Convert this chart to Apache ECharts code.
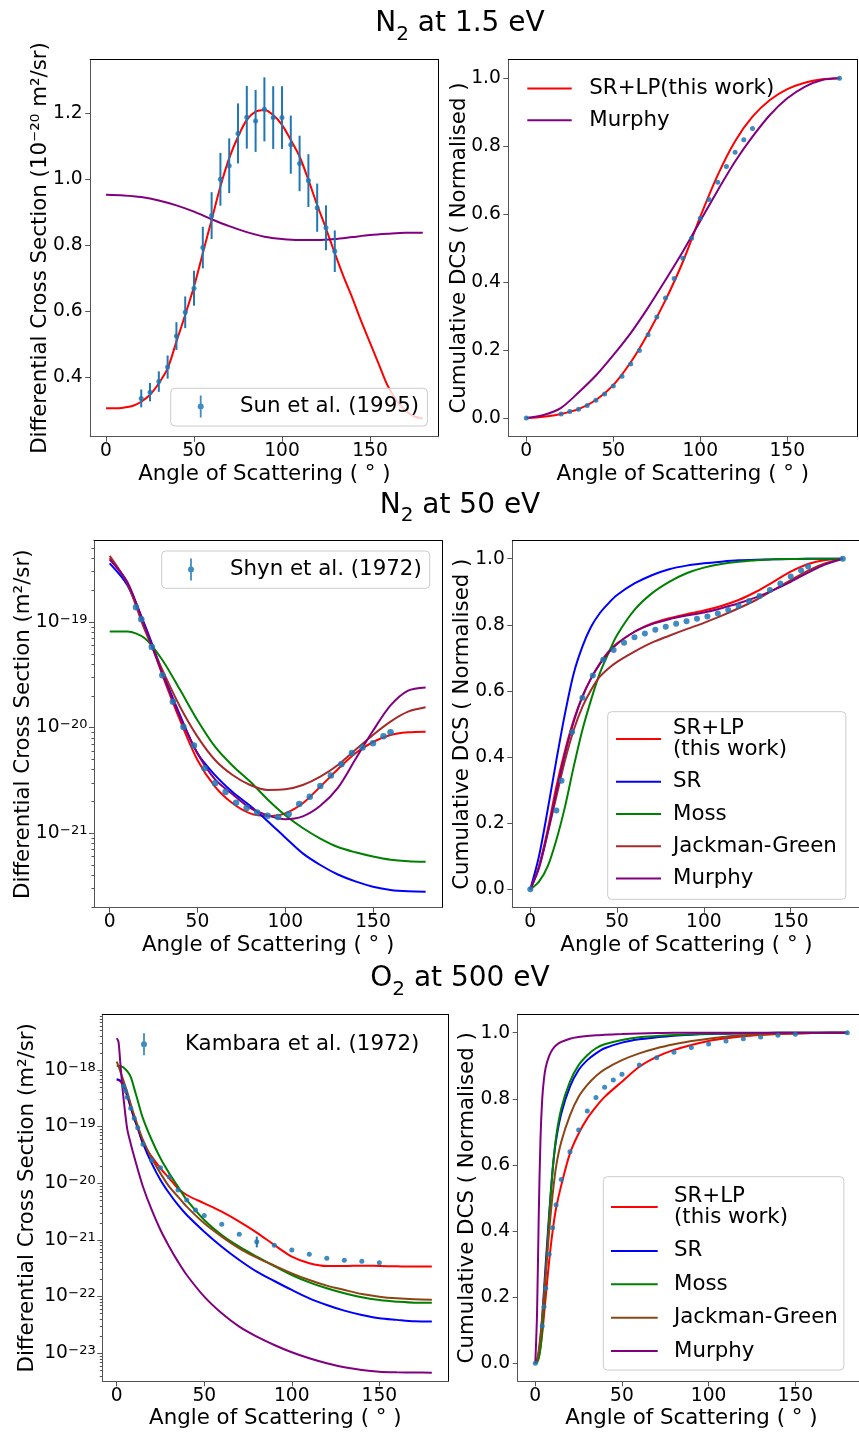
<!DOCTYPE html>
<html><head><meta charset="utf-8">
<script src="https://cdn.jsdelivr.net/npm/echarts@6/dist/echarts.min.js"></script>
<style>html,body{margin:0;padding:0;background:#fff}#c{width:859px;height:1433px}</style>
</head><body><div id="c"></div>
<script>
// ======================= DATA =======================
// ---- Panel 1: N2 at 1.5 eV, DCS (1e-20 m^2/sr) ----
const p1Angles = [0,5,10,15,20,25,30,35,40,45,50,55,60,65,70,75,80,85,90,95,100,105,110,115,120,125,130,135,140,145,150,155,160,165,170,175,180];
const p1SRLP = [0.306,0.306,0.308,0.313,0.326,0.347,0.382,0.427,0.508,0.589,0.675,0.776,0.877,0.978,1.064,1.129,1.180,1.205,1.210,1.195,1.165,1.119,1.069,0.998,0.922,0.851,0.776,0.705,0.640,0.570,0.505,0.440,0.375,0.330,0.300,0.282,0.275];
const p1MurphyAngles = [0,10,20,30,40,50,60,70,80,90,100,110,120,130,140,150,160,170,180];
const p1Murphy = [0.953,0.951,0.946,0.936,0.921,0.902,0.879,0.858,0.840,0.826,0.819,0.816,0.816,0.819,0.825,0.831,0.835,0.838,0.838];
const sunAngles = [20,25,30,35,40,45,50,55,60,65,70,75,80,85,90,95,100,105,110,115,120,125,130];
const sunDCS = [0.336,0.355,0.387,0.431,0.525,0.597,0.670,0.793,0.890,1.000,1.041,1.139,1.188,1.177,1.212,1.187,1.187,1.105,1.048,0.996,0.914,0.853,0.782];
const sunErr = [0.027,0.028,0.031,0.035,0.042,0.048,0.053,0.063,0.071,0.080,0.083,0.091,0.095,0.094,0.097,0.095,0.095,0.088,0.084,0.080,0.073,0.068,0.063];

// ---- Panel 2: N2 at 1.5 eV, cumulative DCS ----
const p2Angles = [0,10,20,30,40,50,60,70,80,90,100,110,120,130,140,150,160,170,180];
const p2SRLP = [0,0.004,0.012,0.026,0.053,0.097,0.164,0.249,0.347,0.46,0.593,0.715,0.815,0.887,0.936,0.968,0.987,0.997,1.0];
const p2Murphy = [0,0.009,0.03,0.075,0.125,0.185,0.25,0.325,0.406,0.49,0.58,0.67,0.755,0.828,0.892,0.941,0.975,0.995,1.0];
const sunCumAngles = [0,20,25,30,35,40,45,50,55,60,65,70,75,80,85,90,95,100,105,110,115,120,125,130,180];
const sunCum = [0,0.012,0.019,0.026,0.037,0.052,0.071,0.094,0.123,0.159,0.199,0.245,0.297,0.353,0.411,0.47,0.529,0.588,0.643,0.694,0.74,0.782,0.819,0.852,1.0];

// ---- Panel 3: N2 at 50 eV, DCS (m^2/sr) given as log10 values ----
const p3Angles = [0,10,20,30,40,50,60,70,80,90,100,110,120,130,140,150,160,170,180];
const p3SRLPLog = [-18.397,-18.634,-19.044,-19.50,-19.927,-20.306,-20.558,-20.716,-20.811,-20.836,-20.811,-20.716,-20.558,-20.394,-20.243,-20.136,-20.069,-20.044,-20.038];
const p3SRLog = [-18.445,-18.65,-19.028,-19.47,-19.88,-20.243,-20.45,-20.61,-20.74,-20.885,-21.04,-21.19,-21.30,-21.39,-21.455,-21.505,-21.536,-21.549,-21.552];
const p3MossLog = [-19.09,-19.09,-19.155,-19.36,-19.64,-19.93,-20.18,-20.36,-20.51,-20.68,-20.83,-20.95,-21.05,-21.13,-21.18,-21.22,-21.25,-21.265,-21.27];
const p3JGLog = [-18.375,-18.634,-19.076,-19.454,-19.80,-20.085,-20.306,-20.448,-20.543,-20.59,-20.584,-20.543,-20.464,-20.353,-20.21,-20.069,-19.943,-19.849,-19.808];
const p3MurphyLog = [-18.41,-18.62,-19.044,-19.486,-19.896,-20.243,-20.49,-20.63,-20.76,-20.83,-20.867,-20.84,-20.74,-20.57,-20.30,-20.03,-19.79,-19.65,-19.62];
const shynAngles = [15,18,24,30,36,42,48,54,60,66,72,78,84,90,96,102,108,114,120,126,132,138,144,150,156,160];
const shynLog = [-18.861,-18.975,-19.237,-19.505,-19.754,-19.994,-20.170,-20.385,-20.527,-20.609,-20.710,-20.76,-20.804,-20.833,-20.845,-20.817,-20.722,-20.653,-20.552,-20.454,-20.347,-20.240,-20.189,-20.148,-20.082,-20.044];

// ---- Panel 4: N2 at 50 eV, cumulative DCS ----
const p4Angles = [0,5,10,15,20,25,30,35,40,45,50,60,70,80,90,100,110,120,130,140,150,160,170,180];
const p4SRLP = [0,0.069,0.18,0.31,0.42,0.512,0.583,0.638,0.683,0.719,0.744,0.779,0.804,0.82,0.832,0.843,0.857,0.875,0.90,0.93,0.961,0.984,0.996,1.0];
const p4SR = [0,0.10,0.24,0.39,0.532,0.653,0.734,0.794,0.835,0.865,0.89,0.925,0.95,0.968,0.979,0.986,0.991,0.995,0.997,0.998,0.999,1.0,1.0,1.0];
const p4Moss = [0,0.023,0.069,0.149,0.25,0.371,0.482,0.573,0.653,0.714,0.769,0.845,0.895,0.93,0.956,0.973,0.984,0.991,0.995,0.998,0.999,1.0,1.0,1.0];
const p4JG = [0,0.069,0.17,0.28,0.39,0.482,0.552,0.603,0.643,0.668,0.688,0.719,0.746,0.767,0.787,0.806,0.827,0.85,0.875,0.905,0.935,0.964,0.986,1.0];
const p4Murphy = [0,0.064,0.17,0.295,0.411,0.507,0.583,0.638,0.681,0.716,0.742,0.779,0.802,0.817,0.828,0.837,0.85,0.865,0.883,0.905,0.93,0.958,0.983,1.0];
const shynCumAngles = [0,15,18,24,30,36,42,48,54,60,66,72,78,84,90,96,102,108,114,120,126,132,138,144,150,156,160,180];
const shynCum = [0,0.238,0.328,0.476,0.579,0.647,0.694,0.724,0.746,0.762,0.774,0.785,0.794,0.803,0.811,0.818,0.825,0.834,0.845,0.857,0.872,0.887,0.905,0.925,0.946,0.964,0.976,1.0];

// ---- Panel 5: O2 at 500 eV, DCS (m^2/sr) given as log10 values ----
const p5Angles = [0,1,2,3,4,6,8,10,12,15,20,25,30,35,40,50,60,70,80,90,100,110,120,130,140,150,160,170,180];
const p5SRLPLog = [-18.17,-18.18,-18.20,-18.24,-18.28,-18.46,-18.66,-18.85,-19.02,-19.30,-19.53,-19.735,-19.91,-20.09,-20.206,-20.353,-20.50,-20.676,-20.87,-21.088,-21.294,-21.41,-21.459,-21.459,-21.453,-21.459,-21.465,-21.47,-21.47];
const p5SRLog = [-18.165,-18.17,-18.185,-18.21,-18.26,-18.45,-18.65,-18.853,-19.02,-19.294,-19.647,-19.94,-20.176,-20.382,-20.559,-20.853,-21.118,-21.353,-21.559,-21.724,-21.882,-22.03,-22.147,-22.247,-22.324,-22.382,-22.41,-22.435,-22.44];
const p5MossLog = [-17.93,-17.93,-17.93,-17.94,-17.96,-18.02,-18.12,-18.324,-18.54,-18.853,-19.235,-19.559,-19.824,-20.059,-20.294,-20.647,-20.912,-21.118,-21.294,-21.459,-21.618,-21.747,-21.853,-21.941,-22.012,-22.059,-22.088,-22.106,-22.106];
const p5JGLog = [-17.853,-17.93,-18.02,-18.11,-18.2,-18.39,-18.6,-18.80,-18.98,-19.235,-19.559,-19.824,-20.059,-20.235,-20.412,-20.706,-20.941,-21.147,-21.312,-21.453,-21.588,-21.706,-21.806,-21.882,-21.953,-22.0,-22.03,-22.047,-22.053];
const p5MurphyLog = [-17.44,-17.50,-17.85,-18.22,-18.53,-19.04,-19.30,-19.53,-19.75,-20.06,-20.47,-20.824,-21.118,-21.382,-21.618,-22.0,-22.294,-22.53,-22.706,-22.853,-22.982,-23.088,-23.176,-23.247,-23.294,-23.324,-23.335,-23.34,-23.341];
const kambaraAngles = [4,5,6,8,10,12,15,20,25,30,35,40,45,50,60,70,80,90,100,110,120,130,140,150];
const kambaraLog = [-18.282,-18.371,-18.482,-18.676,-18.853,-19.018,-19.312,-19.594,-19.724,-19.882,-20.118,-20.294,-20.47,-20.57,-20.724,-20.9,-21.03,-21.094,-21.176,-21.253,-21.324,-21.359,-21.376,-21.4];
const kambaraBarAngles = [80];
const kambaraBarLow = [7.4e-22];
const kambaraBarHigh = [1.15e-21];

// ---- Panel 6: O2 at 500 eV, cumulative DCS ----
const p6Angles = [0,1,2,3,4,5,6,8,10,12,15,20,25,30,35,40,50,60,70,80,90,100,110,120,130,140,150,160,170,180];
const p6SRLP = [0,0.005,0.02,0.05,0.09,0.145,0.2,0.31,0.40,0.469,0.539,0.635,0.695,0.741,0.776,0.806,0.852,0.897,0.927,0.948,0.963,0.975,0.983,0.989,0.993,0.996,0.998,0.999,1.0,1.0];
const p6SR = [0,0.008,0.03,0.075,0.14,0.22,0.30,0.45,0.585,0.675,0.756,0.837,0.887,0.917,0.9375,0.953,0.97,0.98,0.986,0.991,0.994,0.996,0.997,0.998,0.999,1.0,1.0,1.0,1.0,1.0];
const p6Moss = [0,0.003,0.015,0.045,0.10,0.18,0.27,0.44,0.585,0.685,0.771,0.852,0.902,0.932,0.953,0.965,0.978,0.986,0.99,0.993,0.995,0.997,0.998,0.999,0.999,1.0,1.0,1.0,1.0,1.0];
const p6JG = [0,0.012,0.04,0.085,0.14,0.205,0.27,0.40,0.51,0.595,0.67,0.75,0.806,0.842,0.869,0.889,0.917,0.9375,0.953,0.965,0.975,0.982,0.988,0.992,0.995,0.997,0.998,0.999,1.0,1.0];
const p6Murphy = [0,0.15,0.45,0.68,0.80,0.86,0.895,0.93,0.95,0.962,0.972,0.982,0.987,0.99,0.992,0.994,0.996,0.998,0.999,1.0,1.0,1.0,1.0,1.0,1.0,1.0,1.0,1.0,1.0,1.0];
const kambaraCumAngles = [0,4,5,6,8,10,12,15,20,25,30,35,40,45,50,60,70,80,90,100,110,120,130,140,150,180];
const kambaraCum = [0,0.113,0.171,0.227,0.33,0.41,0.48,0.556,0.64,0.706,0.763,0.804,0.835,0.857,0.874,0.902,0.924,0.941,0.955,0.966,0.975,0.982,0.987,0.992,0.995,1.0];

// ---- Tick labels / text ----
const xTicks = [0,50,100,150];
const p1YTicks = [0.4,0.6,0.8,1.0,1.2];
const cumYTicks = [0,0.2,0.4,0.6,0.8,1.0];
const p3MajorExp = [-21,-20,-19];
const p5MajorExp = [-23,-22,-21,-20,-19,-18];
const titles = ['N{s|2} at 1.5 eV','N{s|2} at 50 eV','O{s|2} at 500 eV'];
const xName = 'Angle of Scattering ( \u00B0 )';
const yNameP1 = 'Differential Cross Section (10\u207B\u00B2\u2070 m\u00B2/sr)';
const yNameLog = 'Differential Cross Section (m\u00B2/sr)';
const yNameCum = 'Cumulative DCS ( Normalised )';

// ======================= STYLE / LAYOUT =======================
const FONT = 'DejaVu Sans';
const COL = {red:'#ff0000', blue:'#0000ff', green:'#008000', brown:'#a52a2a', sbrown:'#8b4513', purple:'#800080', dot:'#1f77b4'};
const AX = '#555';
const grids = [
  {left:90.2, top:59.3, width:348.4, height:377.4},
  {left:508.3, top:59.3, width:349, height:377.4},
  {left:94, top:540.7, width:348.3, height:367},
  {left:512.3, top:540.7, width:348.4, height:367},
  {left:102.3, top:1014.3, width:346, height:367},
  {left:517.7, top:1014.3, width:347.3, height:367}
];
const xRanges = [[-9,189],[-10.34,190.23],[-8.94,189.5],[-10.37,190.3],[-8.23,189.4],[-10.15,190.2]];

const xAxes = [], yAxes = [], series = [], legends = [];
const nameStyle = {fontSize:21.33, fontFamily:FONT, color:'#000'};
const tickLabel = {fontSize:18.67, fontFamily:FONT, color:'#000'};

function addX(g){
  const idx = xAxes.length, r = xRanges[g];
  xAxes.push({gridIndex:g, type:'value', min:r[0], max:r[1], position:'bottom',
    axisLine:{show:true, onZero:false, lineStyle:{color:AX, width:1}},
    axisTick:{show:true, customValues:xTicks, length:5, lineStyle:{color:AX}},
    axisLabel:Object.assign({customValues:xTicks, margin:5.3}, tickLabel),
    splitLine:{show:false}, name:xName, nameLocation:'middle', nameGap:26.8, nameMoveOverlap:false,
    nameTextStyle:nameStyle});
  xAxes.push({gridIndex:g, type:'value', min:r[0], max:r[1], position:'top',
    axisLine:{show:true, onZero:false, lineStyle:{color:'#000', width:1}},
    axisTick:{show:false}, axisLabel:{show:false}, splitLine:{show:false}});
  return idx;
}
function rightSpine(g, min, max){
  yAxes.push({gridIndex:g, type:'value', min, max, position:'right',
    axisLine:{show:true, onZero:false, lineStyle:{color:'#000', width:1}},
    axisTick:{show:false}, axisLabel:{show:false}, splitLine:{show:false}});
}
function addYLinear(g, range, ticks, name, gap){
  const idx = yAxes.length;
  yAxes.push({gridIndex:g, type:'value', min:range[0], max:range[1], position:'left',
    axisLine:{show:true, onZero:false, lineStyle:{color:AX, width:1}},
    axisTick:{show:true, customValues:ticks, length:5, lineStyle:{color:AX}},
    axisLabel:Object.assign({customValues:ticks, margin:7.5, formatter:v=>Number(v).toFixed(1)}, tickLabel),
    splitLine:{show:false}, name, nameLocation:'middle', nameGap:gap, nameRotate:90, nameMoveOverlap:false,
    nameTextStyle:nameStyle});
  rightSpine(g, range[0], range[1]);
  return idx;
}
function addYLog(g, expRange, majors, name, gap){
  const idx = yAxes.length;
  yAxes.push({gridIndex:g, type:'log', logBase:10, min:Math.pow(10,expRange[0]), max:Math.pow(10,expRange[1]), position:'left',
    axisLine:{show:true, onZero:false, lineStyle:{color:AX, width:1}},
    axisTick:{show:false}, axisLabel:{show:false}, splitLine:{show:false},
    name, nameLocation:'middle', nameGap:gap, nameRotate:90, nameMoveOverlap:false, nameTextStyle:nameStyle});
  yAxes.push({gridIndex:g, type:'value', min:expRange[0], max:expRange[1], position:'left',
    axisLine:{show:false, onZero:false}, axisTick:{show:true, customValues:majors, length:5, lineStyle:{color:AX}},
    axisLabel:{customValues:majors, margin:6.5, formatter:v=>'{b|10}{s|\u2212'+Math.round(-v)+'}',
      rich:{b:{fontSize:18.67, lineHeight:18.67, fontFamily:FONT, color:'#000', verticalAlign:'bottom'},
            s:{fontSize:13, lineHeight:13, fontFamily:FONT, color:'#000', verticalAlign:'top', padding:[0,0,9.4,0.5]}}},
    splitLine:{show:false}});
  const minor = [];
  for (let n = Math.floor(expRange[0]); n < expRange[1]; n++) {
    for (let k = 2; k <= 9; k++) { const e = n + Math.log10(k); if (e > expRange[0] && e < expRange[1]) minor.push(e); }
  }
  yAxes.push({gridIndex:g, type:'value', min:expRange[0], max:expRange[1], position:'left',
    axisLine:{show:false, onZero:false}, axisTick:{show:true, customValues:minor, length:2.5, lineStyle:{color:AX}},
    axisLabel:{show:false}, splitLine:{show:false}});
  rightSpine(g, expRange[0], expRange[1]);
  return idx;
}

const zip = (xs, ys) => xs.map((x,i)=>[x, ys[i]]);
const zipLog = (xs, es) => xs.map((x,i)=>[x, Math.pow(10, es[i])]);

function line(name, xi, yi, data, color){
  return {type:'line', name, xAxisIndex:xi, yAxisIndex:yi, data, symbol:'none', showSymbol:false,
    smooth:0.3, lineStyle:{color, width:2}, itemStyle:{color}, z:2, silent:true};
}
function dots(name, xi, yi, data, size){
  return {type:'scatter', name, xAxisIndex:xi, yAxisIndex:yi, data, symbolSize:size,
    itemStyle:{color:COL.dot, opacity:0.85}, z:4, silent:true};
}
function errbars(xi, yi, data){
  return {type:'custom', xAxisIndex:xi, yAxisIndex:yi, data, z:3, silent:true, encode:{x:0, y:[1,2]},
    renderItem:(p, api)=>{
      const a = api.coord([api.value(0), api.value(1)]), b = api.coord([api.value(0), api.value(2)]);
      return {type:'line', shape:{x1:a[0], y1:a[1], x2:b[0], y2:b[1]}, style:{stroke:COL.dot, lineWidth:2}};
    }};
}

// error-bar legend glyph is 6px wide and centred in a 43px slot -> content bbox starts 18.5px in
const ERR_ICON = 'path://M2.3,0H4.1V22H2.3Z M0.2,11A3,3 0 1 1 6.2,11A3,3 0 1 1 0.2,11Z';
const ERR_SHIFT = 18.5;
const lineIcon = w => 'path://M0,0H'+w+'V2H0Z';
function legend(o){
  const L = {orient:'vertical', align:'left', left:o.left, top:o.top, padding:o.padding,
    itemWidth:o.itemWidth, itemHeight:o.itemHeight, itemGap:o.itemGap||10, selectedMode:false,
    formatter:n=>n.split('#')[0],
    textStyle:{fontSize:21.33, fontFamily:FONT, color:'#000', lineHeight:21, padding:[0,0,0,o.textPad]},
    itemStyle:{borderWidth:0},
    data:o.data};
  if (o.box) Object.assign(L, {backgroundColor:'rgba(255,255,255,0.8)', borderColor:'#cccccc', borderWidth:1, borderRadius:4});
  legends.push(L);
}

// ---------- Panel 1 ----------
{
  const xi = addX(0);
  const yi = addYLinear(0, [0.22, 1.3636], p1YTicks, yNameP1, 39.2);
  series.push(line('SRLP#1', xi, yi, zip(p1Angles, p1SRLP), COL.red));
  series.push(line('Murphy#1', xi, yi, zip(p1MurphyAngles, p1Murphy), COL.purple));
  series.push(errbars(xi, yi, sunAngles.map((x,i)=>[x, sunDCS[i]-sunErr[i], sunDCS[i]+sunErr[i]])));
  series.push(dots('Sun et al. (1995)', xi, yi, zip(sunAngles, sunDCS), 5));
  legend({left:170.7, top:388.3, padding:[7.3,8.3,8.4,8.5+ERR_SHIFT], itemWidth:43, itemHeight:22, textPad:12.8, box:true,
    data:[{name:'Sun et al. (1995)', icon:ERR_ICON}]});
}
// ---------- Panel 2 ----------
{
  const xi = addX(1);
  const yi = addYLinear(1, [-0.055, 1.0559], cumYTicks, yNameCum, 38);
  series.push(line('SR+LP(this work)#2', xi, yi, zip(p2Angles, p2SRLP), COL.red));
  series.push(line('Murphy#2', xi, yi, zip(p2Angles, p2Murphy), COL.purple));
  series.push(dots('Sun cum#2', xi, yi, zip(sunCumAngles, sunCum), 5));
  legend({left:527.3, top:78, padding:0, itemWidth:44.4, itemHeight:14, itemGap:10.7, textPad:12.6, box:false,
    data:[{name:'SR+LP(this work)#2', icon:lineIcon(44.4)}, {name:'Murphy#2', icon:lineIcon(44.4)}]});
}
// ---------- Panel 3 ----------
{
  const xi = addX(2);
  const yi = addYLog(2, [-21.704, -18.231], p3MajorExp, yNameLog, 60.4);
  series.push(line('SRLP#3', xi, yi, zipLog(p3Angles, p3SRLPLog), COL.red));
  series.push(line('SR#3', xi, yi, zipLog(p3Angles, p3SRLog), COL.blue));
  series.push(line('Moss#3', xi, yi, zipLog(p3Angles, p3MossLog), COL.green));
  series.push(line('JG#3', xi, yi, zipLog(p3Angles, p3JGLog), COL.brown));
  series.push(line('Murphy#3', xi, yi, zipLog(p3Angles, p3MurphyLog), COL.purple));
  series.push(dots('Shyn et al. (1972)', xi, yi, zipLog(shynAngles, shynLog), 6.5));
  legend({left:161.7, top:551, padding:[7.6,8,7.7,7.8+ERR_SHIFT], itemWidth:43, itemHeight:22, textPad:12.5, box:true,
    data:[{name:'Shyn et al. (1972)', icon:ERR_ICON}]});
}
// ---------- Panel 4 ----------
{
  const xi = addX(3);
  const yi = addYLinear(3, [-0.0557, 1.0544], cumYTicks, yNameCum, 39.7);
  const names = ['SR+LP\n(this work)#4','SR#4','Moss#4','Jackman-Green#4','Murphy#4'];
  series.push(line(names[0], xi, yi, zip(p4Angles, p4SRLP), COL.red));
  series.push(line(names[1], xi, yi, zip(p4Angles, p4SR), COL.blue));
  series.push(line(names[2], xi, yi, zip(p4Angles, p4Moss), COL.green));
  series.push(line(names[3], xi, yi, zip(p4Angles, p4JG), COL.brown));
  series.push(line(names[4], xi, yi, zip(p4Angles, p4Murphy), COL.purple));
  series.push(dots('Shyn cum#4', xi, yi, zip(shynCumAngles, shynCum), 6));
  legend({left:607.7, top:711.7, padding:[6.4,9,10.2,8.3], itemWidth:45, itemHeight:14, itemGap:11.25, textPad:7, box:true,
    data:names.map(n=>({name:n, icon:lineIcon(45)}))});
}
// ---------- Panel 5 ----------
{
  const xi = addX(4);
  const yi = addYLog(4, [-23.494, -17.017], p5MajorExp, yNameLog, 64.7);
  series.push(line('SRLP#5', xi, yi, zipLog(p5Angles, p5SRLPLog), COL.red));
  series.push(line('SR#5', xi, yi, zipLog(p5Angles, p5SRLog), COL.blue));
  series.push(line('Moss#5', xi, yi, zipLog(p5Angles, p5MossLog), COL.green));
  series.push(line('JG#5', xi, yi, zipLog(p5Angles, p5JGLog), COL.sbrown));
  series.push(line('Murphy#5', xi, yi, zipLog(p5Angles, p5MurphyLog), COL.purple));
  series.push(errbars(xi, yi, kambaraBarAngles.map((x,i)=>[x, kambaraBarLow[i], kambaraBarHigh[i]])));
  series.push(dots('Kambara et al. (1972)', xi, yi, zipLog(kambaraAngles, kambaraLog), 5));
  legend({left:122.5, top:1033.3, padding:[0,0,0,ERR_SHIFT], itemWidth:43, itemHeight:22, textPad:14.5, box:false,
    data:[{name:'Kambara et al. (1972)', icon:ERR_ICON}]});
}
// ---------- Panel 6 ----------
{
  const xi = addX(5);
  const yi = addYLinear(5, [-0.0544, 1.0557], cumYTicks, yNameCum, 40);
  const names = ['SR+LP\n(this work)#6','SR#6','Moss#6','Jackman-Green#6','Murphy#6'];
  series.push(line(names[0], xi, yi, zip(p6Angles, p6SRLP), COL.red));
  series.push(line(names[1], xi, yi, zip(p6Angles, p6SR), COL.blue));
  series.push(line(names[2], xi, yi, zip(p6Angles, p6Moss), COL.green));
  series.push(line(names[3], xi, yi, zip(p6Angles, p6JG), COL.sbrown));
  series.push(line(names[4], xi, yi, zip(p6Angles, p6Murphy), COL.purple));
  series.push(dots('Kambara cum#6', xi, yi, zip(kambaraCumAngles, kambaraCum), 5));
  legend({left:603.3, top:1176.7, padding:[9.4,6,8.5,7.7], itemWidth:46.7, itemHeight:14, itemGap:12.35, textPad:11.3, box:true,
    data:names.map(n=>({name:n, icon:lineIcon(46.7)}))});
}

const titleY = [23.9, 505.3, 978.9];
const option = {
  animation:false,
  backgroundColor:'#ffffff',
  textStyle:{fontFamily:FONT},
  grid:grids.map(g=>Object.assign({containLabel:false, outerBoundsMode:'none', show:false}, g)),
  xAxis:xAxes, yAxis:yAxes, series, legend:legends,
  graphic:titles.map((t,i)=>({type:'text', x:460, y:titleY[i], silent:true,
    style:{text:t, fontSize:28, lineHeight:28, fontFamily:FONT, fill:'#000', align:'center', verticalAlign:'middle',
      rich:{s:{fontSize:20, lineHeight:20, fontFamily:FONT, fill:'#000', verticalAlign:'top', padding:[14.7,0,0,0]}}}}))
};
const chart = echarts.init(document.getElementById('c'), null, {renderer:'canvas'});
chart.setOption(option);
</script></body></html>
